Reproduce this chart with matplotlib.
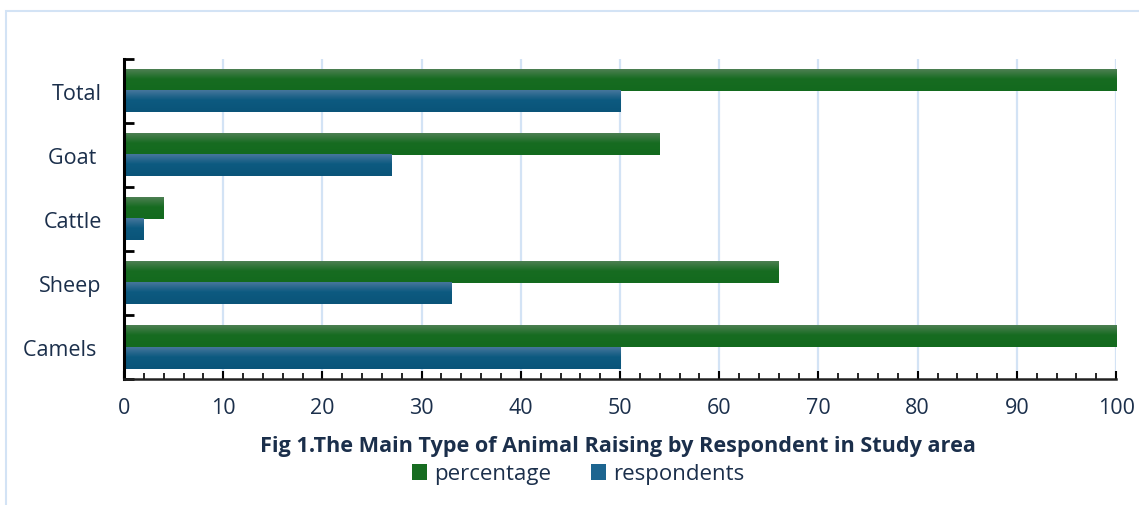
import numpy as np
import matplotlib.pyplot as plt
from matplotlib.colors import LinearSegmentedColormap
from matplotlib.patches import Patch, Rectangle

# --- Data ---
animals = ['Total', 'Goat ', 'Cattle', 'Sheep', 'Camels ']
percentage = [100, 54, 4, 66, 100]
respondents = [50, 27, 2, 33, 50]

plt.rcParams['font.family'] = ['Open Sans', 'DejaVu Sans']

txt = '#1b2f4b'
grid_c = '#d3e3f5'
green_map = LinearSegmentedColormap.from_list(
    'g', [(0, '#4d7f52'), (0.45, '#176c21'), (1, '#136a1e')])
blue_map = LinearSegmentedColormap.from_list(
    'b', [(0, '#46769c'), (0.45, '#0d5a80'), (1, '#0a5479')])

fig = plt.figure(figsize=(11.39, 5.06), dpi=100)
ax = fig.add_axes([0.1089, 0.249, 0.871, 0.6325])

# outer chart frame
fig.patches.append(Rectangle((6 / 1139, -0.1), 1.2, 1 - 12 / 506 + 0.1,
                             transform=fig.transFigure, fill=False,
                             edgecolor=grid_c, linewidth=1.5))

y = np.arange(len(animals))
h = 0.336
grad = np.linspace(0, 1, 64).reshape(-1, 1)

xticks = np.arange(0, 101, 10)
# vertical gridlines sit under the bars, ticks and spines stay on top
for xv in xticks[1:]:
    ax.axvline(xv, color=grid_c, linewidth=1.6, zorder=0)


def gradient_bars(vals, offset, cmap):
    for yi, v in zip(y, vals):
        top = yi + offset - h / 2
        ax.imshow(grad, cmap=cmap, aspect='auto', interpolation='bilinear',
                  extent=(0, v, top + h, top), origin='upper', zorder=2)


gradient_bars(percentage, -h / 2, green_map)
gradient_bars(respondents, h / 2, blue_map)

ax.set_xlim(0, 100)
ax.set_ylim(len(animals) - 0.5, -0.5)

ax.set_xticks(xticks)
ax.set_xticks(np.arange(0, 101, 2), minor=True)
ax.set_yticks(y)
ax.set_yticklabels(animals)
ax.set_yticks(np.arange(-0.5, len(animals), 1), minor=True)

for s in ['top', 'right']:
    ax.spines[s].set_visible(False)
ax.spines['left'].set_linewidth(2.2)
ax.spines['left'].set_color('black')
ax.spines['bottom'].set_linewidth(1.8)
ax.spines['bottom'].set_color('#222222')

ax.tick_params(axis='y', which='both', direction='in', length=7, width=2,
               color='black', labelsize=15.5, labelcolor=txt, pad=16)
ax.tick_params(axis='x', which='major', direction='in', length=6, width=1.5,
               color='black', labelsize=15.5, labelcolor=txt, pad=13)
ax.tick_params(axis='x', which='minor', direction='in', length=4, width=1.2,
               color='black')

fig.text(618 / 1139, 1 - 447 / 506,
         'Fig 1.The Main Type of Animal Raising by Respondent in Study area',
         ha='center', va='center', fontsize=15.6, fontweight='bold', color=txt)

handles = [Patch(facecolor='#176c21', label='percentage'),
           Patch(facecolor='#1d6590', label='respondents')]
fig.legend(handles=handles, loc='center', bbox_to_anchor=(578 / 1139, 1 - 475 / 506),
           ncol=2, frameon=False, fontsize=16, labelcolor=txt,
           handlelength=0.7, handleheight=0.7, handletextpad=0.3,
           columnspacing=1.8)

fig.savefig('out.png', dpi=100)
